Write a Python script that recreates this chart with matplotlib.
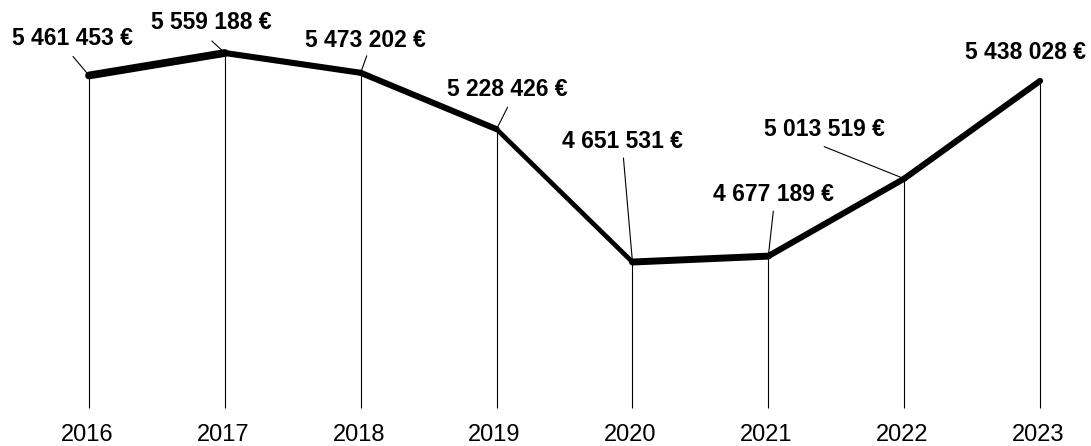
import numpy as np
import matplotlib.pyplot as plt
from matplotlib.collections import LineCollection

years = [2016, 2017, 2018, 2019, 2020, 2021, 2022, 2023]
values = [5461453, 5559188, 5473202, 5228426, 4651531, 4677189, 5013519, 5438028]
labels = ["5 461 453 €", "5 559 188 €", "5 473 202 €", "5 228 426 €",
          "4 651 531 €", "4 677 189 €", "5 013 519 €", "5 438 028 €"]

# label placement, in pixels from the point (x right, y up)
label_off = [(-16, 37), (-14, 30), (5, 32), (11, 40), (-10, 121), (5, 62), (-80, 49), (-15, 28)]
leader_off = [(-16, 19), (-13, 12), (6, 17), (11, 22), (-9, 104), (5, 45), (-80, 32), None]
seg_width = [5.6, 4.4, 4.4, 3.4, 5.0, 4.4, 4.4]  # pt

fig = plt.figure(figsize=(10.91, 4.46), dpi=100)
ax = fig.add_axes([0, 0, 1, 1])
ax.set_xlim(2015.345, 2023.375)
ax.set_ylim(3852700, 5789300)
ax.axis('off')

base = 4017000
ax.vlines(years, base, values, color='black', lw=0.8)

pts = np.column_stack([years, values])
segs = [pts[i:i + 2] for i in range(len(pts) - 1)]
lc = LineCollection(segs, colors='black', linewidths=seg_width, capstyle='round')
ax.add_collection(lc)

for i in range(len(years)):
    ax.annotate(labels[i], (years[i], values[i]), xytext=label_off[i],
                textcoords='offset pixels', ha='center', va='center',
                fontsize=16.5, fontweight='bold', family='Liberation Sans')
    if leader_off[i] is not None:
        ax.annotate('', xy=(years[i], values[i]), xytext=leader_off[i],
                    textcoords='offset pixels',
                    arrowprops=dict(arrowstyle='-', lw=0.8, color='black',
                                    shrinkA=0, shrinkB=0))

for y in years:
    ax.text(y - 0.015, 0.012, str(y), transform=ax.get_xaxis_transform(),
            ha='center', va='baseline', fontsize=17, family='Liberation Sans')

fig.savefig('out.png', dpi=100)
